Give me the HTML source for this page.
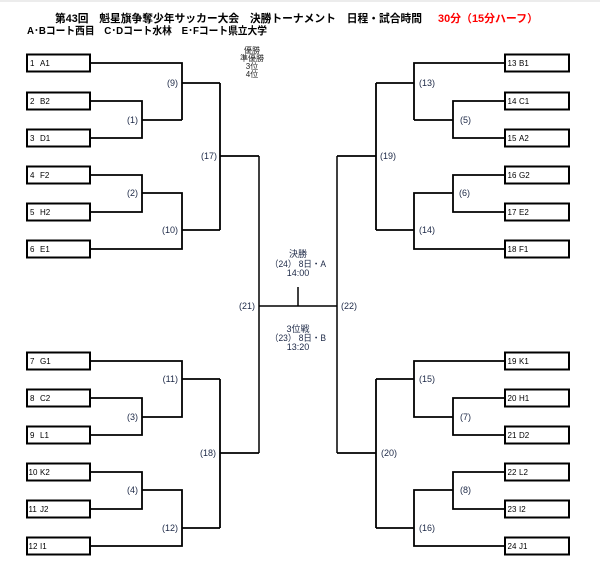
<!DOCTYPE html>
<html>
<head>
<meta charset="utf-8">
<style>
html,body{margin:0;padding:0;background:#fff;}
body{width:600px;height:564px;overflow:hidden;}
svg{display:block;}
.t{font-family:"Liberation Sans","Noto Sans CJK JP",sans-serif;}
.bx{fill:#fff;stroke:#000;stroke-width:2;}
.ln{fill:none;stroke:#000;stroke-width:1.8;}
.lc{fill:none;stroke:#000;stroke-width:1.5;}
.bt{font-size:8px;fill:#000;}
.lb{font-size:9px;fill:#1c2846;}
.ct{font-size:9px;fill:#1c2846;}
</style>
</head>
<body>
<svg width="600" height="564" viewBox="0 0 600 564" xmlns="http://www.w3.org/2000/svg">
<line x1="0" y1="1" x2="600" y2="1" stroke="#ececec" stroke-width="2"/>
<!-- Title -->
<text class="t" x="55" y="22" font-size="11" font-weight="bold" fill="#000" textLength="367" lengthAdjust="spacingAndGlyphs">第43回　魁星旗争奪少年サッカー大会　決勝トーナメント　日程・試合時間</text>
<text class="t" x="438" y="22" font-size="11" font-weight="bold" fill="#ff0000" textLength="100" lengthAdjust="spacingAndGlyphs">30分（15分ハーフ）</text>
<text class="t" x="27" y="34" font-size="10.5" font-weight="bold" fill="#000" textLength="240" lengthAdjust="spacingAndGlyphs">A･Bコート西目　C･Dコート水林　E･Fコート県立大学</text>
<!-- Ranking -->
<g class="t" font-size="8" fill="#222" text-anchor="middle">
<text x="252" y="53">優勝</text>
<text x="252" y="61">準優勝</text>
<text x="252" y="69">3位</text>
<text x="252" y="77">4位</text>
</g>

<!-- Left bracket lines -->
<path class="ln" d="M91 63 H182 V120 M91 101 H142 V138 H91 M142 120 H182 M182 83 H220
M91 175 H142 V212 H91 M142 193 H182 V249 H91 M182 230 H220 M220 83 V230 M220 156 H259
M91 361 H182 V417 H142 M91 398 H142 V435 H91 M182 379 H220
M91 472 H142 V509 H91 M142 490 H182 V546 H91 M182 528 H220 M220 379 V528 M220 453 H259"/>
<!-- Right bracket lines -->
<path class="ln" d="M504 63 H414 V120 M504 101 H453 V138 H504 M453 120 H414 M414 83 H376
M504 175 H453 V212 H504 M453 193 H414 V249 H504 M414 230 H376 M376 83 V230 M376 156 H337
M504 361 H414 V417 H453 M504 398 H453 V435 H504 M414 379 H376
M504 472 H453 V509 H504 M453 490 H414 V546 H504 M414 528 H376 M376 379 V528 M376 453 H337"/>
<!-- Center -->
<path class="lc" d="M259 156 V453 M259 306 H337 M298 287 V306 M337 156 V453"/>

<!-- Left boxes -->
<g>
<rect class="bx" x="27" y="54.5" width="63" height="17"/>
<rect class="bx" x="27" y="92.5" width="63" height="17"/>
<rect class="bx" x="27" y="129.5" width="63" height="17"/>
<rect class="bx" x="27" y="166.5" width="63" height="17"/>
<rect class="bx" x="27" y="203.5" width="63" height="17"/>
<rect class="bx" x="27" y="240.5" width="63" height="17"/>
<rect class="bx" x="27" y="352.5" width="63" height="17"/>
<rect class="bx" x="27" y="389.5" width="63" height="17"/>
<rect class="bx" x="27" y="426.5" width="63" height="17"/>
<rect class="bx" x="27" y="463.5" width="63" height="17"/>
<rect class="bx" x="27" y="500.5" width="63" height="17"/>
<rect class="bx" x="27" y="537.5" width="63" height="17"/>
</g>
<!-- Right boxes -->
<g>
<rect class="bx" x="505" y="54.5" width="64" height="17"/>
<rect class="bx" x="505" y="92.5" width="64" height="17"/>
<rect class="bx" x="505" y="129.5" width="64" height="17"/>
<rect class="bx" x="505" y="166.5" width="64" height="17"/>
<rect class="bx" x="505" y="203.5" width="64" height="17"/>
<rect class="bx" x="505" y="240.5" width="64" height="17"/>
<rect class="bx" x="505" y="352.5" width="64" height="17"/>
<rect class="bx" x="505" y="389.5" width="64" height="17"/>
<rect class="bx" x="505" y="426.5" width="64" height="17"/>
<rect class="bx" x="505" y="463.5" width="64" height="17"/>
<rect class="bx" x="505" y="500.5" width="64" height="17"/>
<rect class="bx" x="505" y="537.5" width="64" height="17"/>
</g>

<!-- Left box texts -->
<g class="t bt">
<text x="30" y="66">1</text><text x="40" y="66">A1</text>
<text x="30" y="104">2</text><text x="40" y="104">B2</text>
<text x="30" y="141">3</text><text x="40" y="141">D1</text>
<text x="30" y="178">4</text><text x="40" y="178">F2</text>
<text x="30" y="215">5</text><text x="40" y="215">H2</text>
<text x="30" y="252">6</text><text x="40" y="252">E1</text>
<text x="30" y="364">7</text><text x="40" y="364">G1</text>
<text x="30" y="401">8</text><text x="40" y="401">C2</text>
<text x="30" y="438">9</text><text x="40" y="438">L1</text>
<text x="28.5" y="475">10</text><text x="40" y="475">K2</text>
<text x="28.5" y="512">11</text><text x="40" y="512">J2</text>
<text x="28.5" y="549">12</text><text x="40" y="549">I1</text>
</g>
<!-- Right box texts -->
<g class="t bt">
<text x="507.5" y="66">13</text><text x="519" y="66">B1</text>
<text x="507.5" y="104">14</text><text x="519" y="104">C1</text>
<text x="507.5" y="141">15</text><text x="519" y="141">A2</text>
<text x="507.5" y="178">16</text><text x="519" y="178">G2</text>
<text x="507.5" y="215">17</text><text x="519" y="215">E2</text>
<text x="507.5" y="252">18</text><text x="519" y="252">F1</text>
<text x="507.5" y="364">19</text><text x="519" y="364">K1</text>
<text x="507.5" y="401">20</text><text x="519" y="401">H1</text>
<text x="507.5" y="438">21</text><text x="519" y="438">D2</text>
<text x="507.5" y="475">22</text><text x="519" y="475">L2</text>
<text x="507.5" y="512">23</text><text x="519" y="512">I2</text>
<text x="507.5" y="549">24</text><text x="519" y="549">J1</text>
</g>

<!-- Left labels -->
<g class="t lb" text-anchor="end">
<text x="178" y="86">(9)</text>
<text x="138" y="123">(1)</text>
<text x="217" y="159">(17)</text>
<text x="138" y="196">(2)</text>
<text x="178" y="233">(10)</text>
<text x="255" y="309">(21)</text>
<text x="178" y="382">(11)</text>
<text x="138" y="420">(3)</text>
<text x="216" y="456">(18)</text>
<text x="138" y="493">(4)</text>
<text x="178" y="531">(12)</text>
</g>
<!-- Right labels -->
<g class="t lb">
<text x="419" y="86">(13)</text>
<text x="460" y="123">(5)</text>
<text x="380" y="159">(19)</text>
<text x="459" y="196">(6)</text>
<text x="419" y="233">(14)</text>
<text x="341" y="309">(22)</text>
<text x="419" y="382">(15)</text>
<text x="460" y="420">(7)</text>
<text x="381" y="456">(20)</text>
<text x="460" y="493">(8)</text>
<text x="419" y="531">(16)</text>
</g>

<!-- Center texts -->
<g class="t ct" text-anchor="middle">
<text x="298" y="257">決勝</text>
<text x="298" y="267" textLength="56" lengthAdjust="spacingAndGlyphs">（24）  8日・A</text>
<text x="298" y="276">14:00</text>
<text x="298" y="332">3位戦</text>
<text x="298" y="341" textLength="56" lengthAdjust="spacingAndGlyphs">（23）  8日・B</text>
<text x="298" y="350">13:20</text>
</g>
</svg>
</body>
</html>
